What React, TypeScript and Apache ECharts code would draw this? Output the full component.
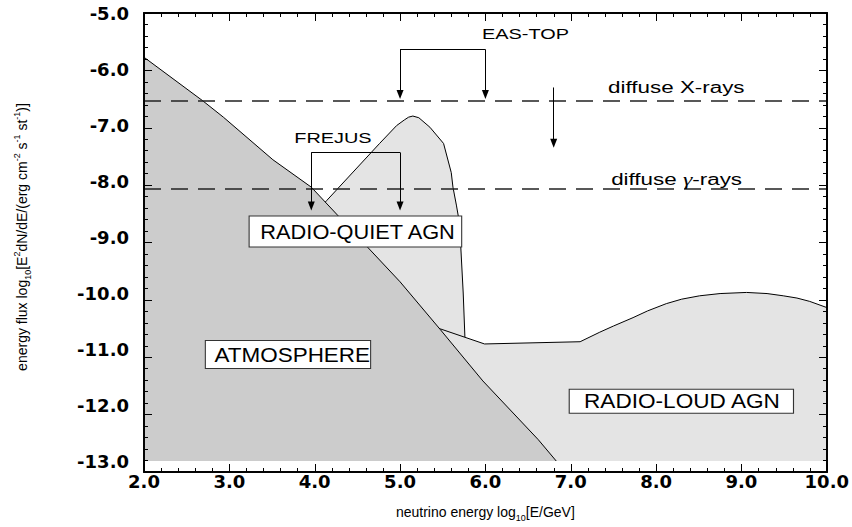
import React, { useEffect, useRef } from "react";
import * as echarts from "echarts";

// ---- axis ranges ----
const X_MIN = 2;
const X_MAX = 10;
const Y_MIN = -13;
const Y_MAX = -5;

// ---- curves (log10 E [GeV], log10 flux) ----
const ATMOSPHERE_X = [2.0, 2.69, 2.93, 3.51, 3.96, 5.0, 5.47, 5.97, 6.62, 6.83];
const ATMOSPHERE_Y = [-5.79, -6.57, -6.86, -7.62, -8.11, -9.8, -10.65, -11.57, -12.62, -13.0];

const RADIO_QUIET_X = [4.0, 4.14, 4.45, 4.76, 4.96, 5.05, 5.1, 5.15, 5.22, 5.35, 5.51, 5.6, 5.62, 5.66, 5.7, 5.71, 5.74, 5.76];
const RADIO_QUIET_Y = [-8.58, -8.35, -7.84, -7.33, -7.01, -6.91, -6.86, -6.84, -6.87, -7.04, -7.33, -7.85, -8.11, -8.43, -8.78, -9.13, -10.0, -10.79];

const RADIO_LOUD_X = [5.3, 5.47, 5.99, 7.11, 7.34, 7.5, 7.73, 7.9, 8.12, 8.3, 8.51, 8.75, 9.06, 9.3, 9.49, 9.65, 9.8, 10.0];
const RADIO_LOUD_Y = [-10.55, -10.64, -10.91, -10.87, -10.7, -10.59, -10.44, -10.32, -10.19, -10.11, -10.05, -10.01, -9.99, -10.01, -10.05, -10.09, -10.15, -10.26];

// ---- limits ----
const DIFFUSE_XRAY = -6.57;
const DIFFUSE_GAMMA = -8.13;

const EAS_TOP_X = [5.0, 6.0];
const EAS_TOP_BAR_Y = -5.65;
const EAS_TOP_TIP_Y = -6.53;

const FREJUS_X = [3.96, 5.0];
const FREJUS_BAR_Y = -7.49;
const FREJUS_TIP_Y = -8.52;

const SINGLE_ARROW_X = 6.8;
const SINGLE_ARROW_FROM = -6.33;
const SINGLE_ARROW_TIP = -7.4;

// ---- labels (anchor in data coords) ----
const LABEL_TEXTS = ["EAS-TOP", "FREJUS", "diffuse X-rays", "diffuse γ-rays", "RADIO-QUIET AGN", "ATMOSPHERE", "RADIO-LOUD AGN"];
const LABEL_X = [6.47, 4.214, 8.237, 8.24, 4.477, 3.687, 8.296];
const LABEL_Y = [-5.383, -7.243, -6.32, -7.96, -8.904, -11.1, -11.935];

const zip = (xs: number[], ys: number[]) => xs.map((x, i) => [x, ys[i]]);

const SANS = '"Liberation Sans", Arial, Helvetica, sans-serif';
const ARROW_HALF = 0.075;

const GRID_RECT = { left: 144, top: 13, right: 25, bottom: 55 };

// frame axis (lines + ticks only), used in the overlay charts
const frameAxis = (type: "x" | "y", position: string) => ({
  type: "value",
  min: type === "x" ? X_MIN : Y_MIN,
  max: type === "x" ? X_MAX : Y_MAX,
  interval: 1,
  position,
  axisLine: { show: true, onZero: false, lineStyle: { color: "#000", width: 1.5 } },
  axisTick: { show: true, inside: true, length: 8, lineStyle: { color: "#000", width: 1 } },
  minorTick: { show: true, splitNumber: 5, length: 4, lineStyle: { color: "#000", width: 1 } },
  axisLabel: { show: false },
  splitLine: { show: false },
  minorSplitLine: { show: false },
});

const frameOption = (xPos: string, yPos: string) => ({
  animation: false,
  backgroundColor: "transparent",
  grid: { ...GRID_RECT, show: true, borderColor: "#000", borderWidth: 1.5, backgroundColor: "transparent" },
  xAxis: frameAxis("x", xPos),
  yAxis: frameAxis("y", yPos),
  series: [
    { type: "line", data: [[X_MIN, Y_MIN]], symbol: "none", lineStyle: { opacity: 0 }, silent: true },
  ],
});

const App: React.FC = () => {
  const ref = useRef<HTMLDivElement>(null);
  const refA = useRef<HTMLDivElement>(null);
  const refB = useRef<HTMLDivElement>(null);

  useEffect(() => {
    if (!ref.current || !refA.current || !refB.current) return;
    const chart = echarts.init(ref.current, undefined, { renderer: "svg" });
    const frameA = echarts.init(refA.current, undefined, { renderer: "svg" });
    const frameB = echarts.init(refB.current, undefined, { renderer: "svg" });

    const tickLabel = {
      formatter: (v: number) => v.toFixed(1),
      fontFamily: "DejaVu Sans",
      fontWeight: "bold",
      fontSize: 18,
      color: "#000",
    };
    const nameRich = {
      n: { fontFamily: SANS, fontSize: 14, color: "#000", lineHeight: 20 },
      sub: { fontFamily: SANS, fontSize: 9, color: "#000", lineHeight: 11, verticalAlign: "bottom" },
      sup: { fontFamily: SANS, fontSize: 9, color: "#000", lineHeight: 11, verticalAlign: "top" },
    };

    const arrowEnd = (x: number, y: number) => ({
      coord: [x, y + ARROW_HALF],
      symbol: "triangle",
      symbolSize: [7, 9],
    });
    const plain = (x: number, y: number) => ({ coord: [x, y], symbol: "none" });

    const dashed = { type: [17, 10], width: 1.5, color: "#222" };

    const markData: any[] = [
      { yAxis: DIFFUSE_XRAY, lineStyle: dashed },
      { yAxis: DIFFUSE_GAMMA, lineStyle: dashed },
      [plain(EAS_TOP_X[0], EAS_TOP_BAR_Y), plain(EAS_TOP_X[1], EAS_TOP_BAR_Y)],
      [plain(EAS_TOP_X[0], EAS_TOP_BAR_Y), arrowEnd(EAS_TOP_X[0], EAS_TOP_TIP_Y)],
      [plain(EAS_TOP_X[1], EAS_TOP_BAR_Y), arrowEnd(EAS_TOP_X[1], EAS_TOP_TIP_Y)],
      [plain(FREJUS_X[0], FREJUS_BAR_Y), plain(FREJUS_X[1], FREJUS_BAR_Y)],
      [plain(FREJUS_X[0], FREJUS_BAR_Y), arrowEnd(FREJUS_X[0], FREJUS_TIP_Y)],
      [plain(FREJUS_X[1], FREJUS_BAR_Y), arrowEnd(FREJUS_X[1], FREJUS_TIP_Y)],
      [plain(SINGLE_ARROW_X, SINGLE_ARROW_FROM), arrowEnd(SINGLE_ARROW_X, SINGLE_ARROW_TIP)],
    ];

    const hiddenLines = {
      axisLine: { show: false, onZero: false },
      axisTick: { show: false },
      minorTick: { show: false },
      splitLine: { show: false },
      minorSplitLine: { show: false },
    };

    const option: any = {
      animation: false,
      grid: { ...GRID_RECT },
      xAxis: {
        type: "value", min: X_MIN, max: X_MAX, interval: 1, position: "bottom",
        ...hiddenLines,
        axisLabel: { ...tickLabel, margin: 11 },
        name: "{n|neutrino energy log}{sub|10}{n|[E/GeV]}",
        nameLocation: "middle",
        nameGap: 41,
        nameTextStyle: { rich: nameRich },
      },
      yAxis: {
        type: "value", min: Y_MIN, max: Y_MAX, interval: 1, position: "left",
        ...hiddenLines,
        axisLabel: { ...tickLabel, margin: 15 },
        name: "{n|energy flux log}{sub|10}{n|[E}{sup|2}{n|dN/dE/(erg cm}{sup|-2}{n| s}{sup|-1}{n| st}{sup|-1}{n|)]}",
        nameLocation: "middle",
        nameGap: 112,
        nameRotate: 90,
        nameTextStyle: { rich: nameRich },
      },
      series: [
        {
          name: "RADIO-QUIET AGN", type: "line",
          data: zip(RADIO_QUIET_X, RADIO_QUIET_Y),
          symbol: "none", smooth: false, z: 2,
          lineStyle: { color: "#000", width: 1 },
          areaStyle: { color: "#e4e4e4", opacity: 1, origin: "start" },
        },
        {
          name: "RADIO-LOUD AGN", type: "line",
          data: zip(RADIO_LOUD_X, RADIO_LOUD_Y),
          symbol: "none", smooth: false, z: 3,
          lineStyle: { color: "#000", width: 1 },
          areaStyle: { color: "#e4e4e4", opacity: 1, origin: "start" },
        },
        {
          name: "ATMOSPHERE", type: "line",
          data: zip(ATMOSPHERE_X, ATMOSPHERE_Y),
          symbol: "none", smooth: false, z: 4,
          lineStyle: { color: "#000", width: 1 },
          areaStyle: { color: "#cccccc", opacity: 1, origin: "start" },
        },
        {
          name: "limits", type: "line",
          data: [[X_MIN, Y_MIN]], symbol: "none", z: 6,
          lineStyle: { opacity: 0 },
          markLine: {
            silent: true,
            animation: false,
            symbol: ["none", "none"],
            label: { show: false },
            lineStyle: { color: "#000", width: 1, type: "solid" },
            emphasis: { disabled: true },
            data: markData,
          },
        },
      ],
    };

    chart.setOption(option);
    frameA.setOption(frameOption("bottom", "left"));
    frameB.setOption(frameOption("top", "right"));

    const styles: any[] = [
      { fontSize: 14, scaleX: 1.42 },
      { fontSize: 14, scaleX: 1.42 },
      { fontSize: 16, scaleX: 1.4 },
      { fontSize: 16, scaleX: 1.4 },
      { fontSize: 20, scaleX: 1.09, box: true, padding: [5, 5, 5, 9] },
      { fontSize: 21, scaleX: 1.07, box: true, padding: [3, 0, 3, 8] },
      { fontSize: 20, scaleX: 1.13, box: true, padding: [2, 11, 1, 12] },
    ];

    const graphics = LABEL_TEXTS.map((t, i) => {
      const [px, py] = chart.convertToPixel({ xAxisIndex: 0, yAxisIndex: 0 }, [LABEL_X[i], LABEL_Y[i]]) as number[];
      const s = styles[i];
      const isGamma = t.includes("γ");
      const style: any = {
        text: isGamma ? "{n|diffuse }{g|γ}{n|-rays}" : t,
        fontFamily: SANS,
        fontSize: s.fontSize,
        fill: "#000",
        align: "center",
        verticalAlign: "middle",
      };
      if (isGamma) {
        style.rich = {
          n: { fontFamily: SANS, fontSize: s.fontSize, fill: "#000" },
          g: { fontFamily: '"Liberation Serif", serif', fontStyle: "italic", fontSize: s.fontSize + 1, fill: "#000" },
        };
      }
      if (s.box) {
        style.backgroundColor = "#fff";
        style.borderColor = "#333";
        style.borderWidth = 1;
        style.padding = s.padding;
      }
      return {
        type: "text",
        x: px,
        y: py,
        scaleX: s.scaleX,
        z: 100,
        silent: true,
        style,
      };
    });

    chart.setOption({ graphic: graphics });

    return () => {
      chart.dispose();
      frameA.dispose();
      frameB.dispose();
    };
  }, []);

  const layer = { position: "absolute" as const, left: 0, top: 0, width: 852, height: 527 };

  return (
    <div style={{ ...layer, background: "#fff" }}>
      <div ref={ref} style={layer} />
      <div ref={refA} style={{ ...layer, pointerEvents: "none" }} />
      <div ref={refB} style={{ ...layer, pointerEvents: "none" }} />
    </div>
  );
};

export default App;
